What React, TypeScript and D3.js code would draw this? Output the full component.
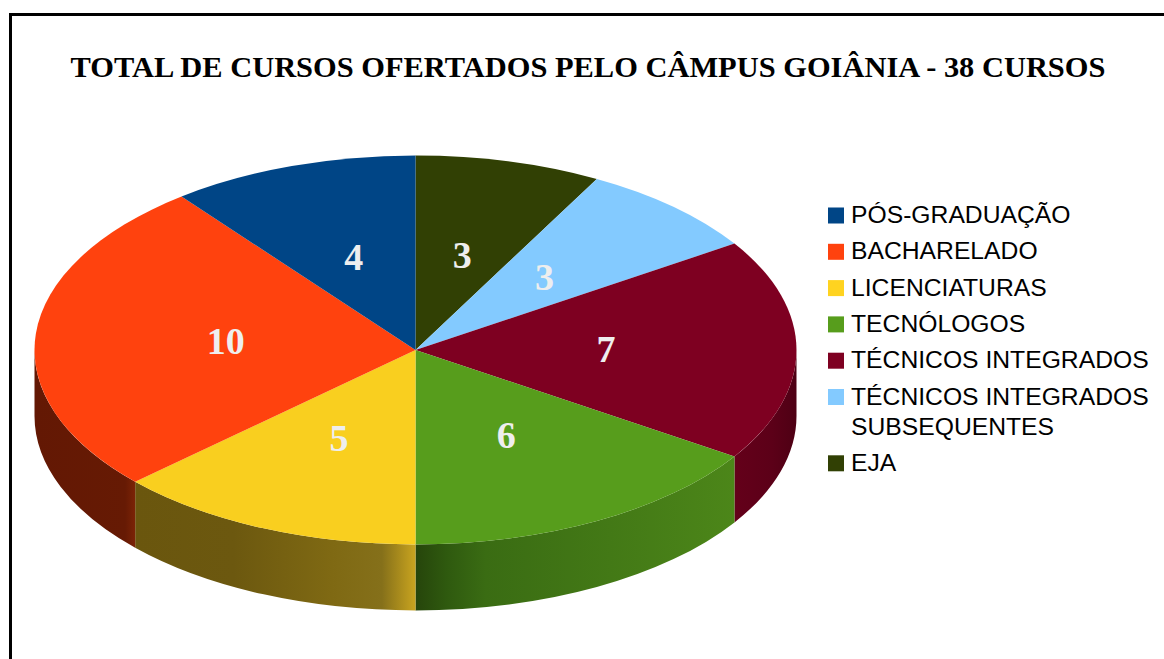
import React from "react";
import * as d3 from "d3";

const categories = ["EJA", "TÉCNICOS INTEGRADOS SUBSEQUENTES", "TÉCNICOS INTEGRADOS", "TECNÓLOGOS", "LICENCIATURAS", "BACHARELADO", "PÓS-GRADUAÇÃO"];
const values = [3, 3, 7, 6, 5, 10, 4];
const topColors = ["#314004", "#83caff", "#7e0021", "#579d1c", "#f9cf1f", "#ff420e", "#004586"];
const legendOrder = ["PÓS-GRADUAÇÃO", "BACHARELADO", "LICENCIATURAS", "TECNÓLOGOS", "TÉCNICOS INTEGRADOS", "TÉCNICOS INTEGRADOS SUBSEQUENTES", "EJA"];
const legendColors = ["#004586", "#ff420e", "#ffd320", "#579d1c", "#7e0021", "#83caff", "#314004"];
const legendLines = [["PÓS-GRADUAÇÃO"], ["BACHARELADO"], ["LICENCIATURAS"], ["TECNÓLOGOS"], ["TÉCNICOS INTEGRADOS"], ["TÉCNICOS INTEGRADOS", "SUBSEQUENTES"], ["EJA"]];
const title = "TOTAL DE CURSOS OFERTADOS PELO CÂMPUS GOIÂNIA - 38 CURSOS";

const W = 1164, H = 659;
const cx = 415.5, cy = 350, rx = 381, ry = 194.5, depth = 66;
const sy = ry / rx;

const wallStops: Record<string, [number, string][]> = {
  "TÉCNICOS INTEGRADOS": [[0, "#64001a"], [0.6, "#5c0018"], [1, "#4e0014"]],
  "TECNÓLOGOS": [[0, "#26450b"], [0.1, "#2f5a0f"], [0.22, "#3a6c13"], [1, "#4c8619"]],
  "LICENCIATURAS": [[0, "#6a560e"], [0.35, "#6c580f"], [0.7, "#7f6913"], [0.88, "#85701a"], [1, "#c9a41f"]],
  "BACHARELADO": [[0, "#631804"], [0.9, "#661a04"], [1, "#7c2306"]],
};

export default function App() {
  const arcs = d3.pie<number>().sort(null).value((d) => d)(values);
  const arc = d3.arc<d3.PieArcDatum<number>>().innerRadius(0).outerRadius(rx);
  const wallPath = (a0: number, a1: number) => {
    const s = Math.max(a0, Math.PI / 2), e = Math.min(a1, (3 * Math.PI) / 2);
    if (s >= e) return null;
    const p = d3.path();
    const h = depth / sy;
    p.arc(0, 0, rx, s - Math.PI / 2, e - Math.PI / 2);
    p.arc(0, h, rx, e - Math.PI / 2, s - Math.PI / 2, true);
    p.closePath();
    return p.toString();
  };
  const xAt = (a: number) => rx * Math.sin(a);
  const rows: number[] = [];
  let y = 215;
  legendLines.forEach((l) => {
    rows.push(y);
    y += 36.3 + (l.length - 1) * 30;
  });
  return (
    <svg width={W} height={H} style={{ position: "absolute", left: 0, top: 0, background: "#fff" }}>
      <defs>
        {arcs.map((d, i) => {
          const stops = wallStops[categories[i]];
          if (!stops) return null;
          const s = Math.max(d.startAngle, Math.PI / 2), e = Math.min(d.endAngle, (3 * Math.PI) / 2);
          const x1 = xAt(s), x2 = xAt(e);
          return (
            <linearGradient key={i} id={`wall${i}`} gradientUnits="userSpaceOnUse" x1={Math.min(x1, x2)} x2={Math.max(x1, x2)} y1={0} y2={0}>
              {stops.map(([o, c], j) => <stop key={j} offset={o} stopColor={c} />)}
            </linearGradient>
          );
        })}
      </defs>
      <path d={`M1164 14.5H10.5V659`} fill="none" stroke="#000" strokeWidth={3} />
      <text x={588} y={77} textAnchor="middle" fontFamily="'Liberation Serif'" fontWeight="bold" fontSize={30.45} fill="#000">{title}</text>
      <g transform={`translate(${cx},${cy}) scale(1,${sy})`}>
        {arcs.map((d, i) => {
          const w = wallPath(d.startAngle, d.endAngle);
          return w ? <path key={i} d={w} fill={`url(#wall${i})`} /> : null;
        })}
        {arcs.map((d, i) => <path key={i} d={arc(d) as string} fill={topColors[i]} />)}
      </g>
      {arcs.map((d, i) => {
        const [x, yy] = arc.centroid(d);
        return (
          <text key={i} x={cx + x} y={cy + yy * sy + 12} textAnchor="middle" fontFamily="'Liberation Serif'" fontWeight="bold" fontSize={38} fill="#eeeeee">{d.value}</text>
        );
      })}
      {legendOrder.map((name, i) => (
        <g key={name}>
          <rect x={828} y={rows[i] - 7.5} width={16} height={16} fill={legendColors[i]} />
          {legendLines[i].map((line, j) => (
            <text key={j} x={851} y={rows[i] + 8 + j * 30} fontFamily="'Liberation Sans'" fontSize={24.7} fill="#000">{line}</text>
          ))}
        </g>
      ))}
    </svg>
  );
}
